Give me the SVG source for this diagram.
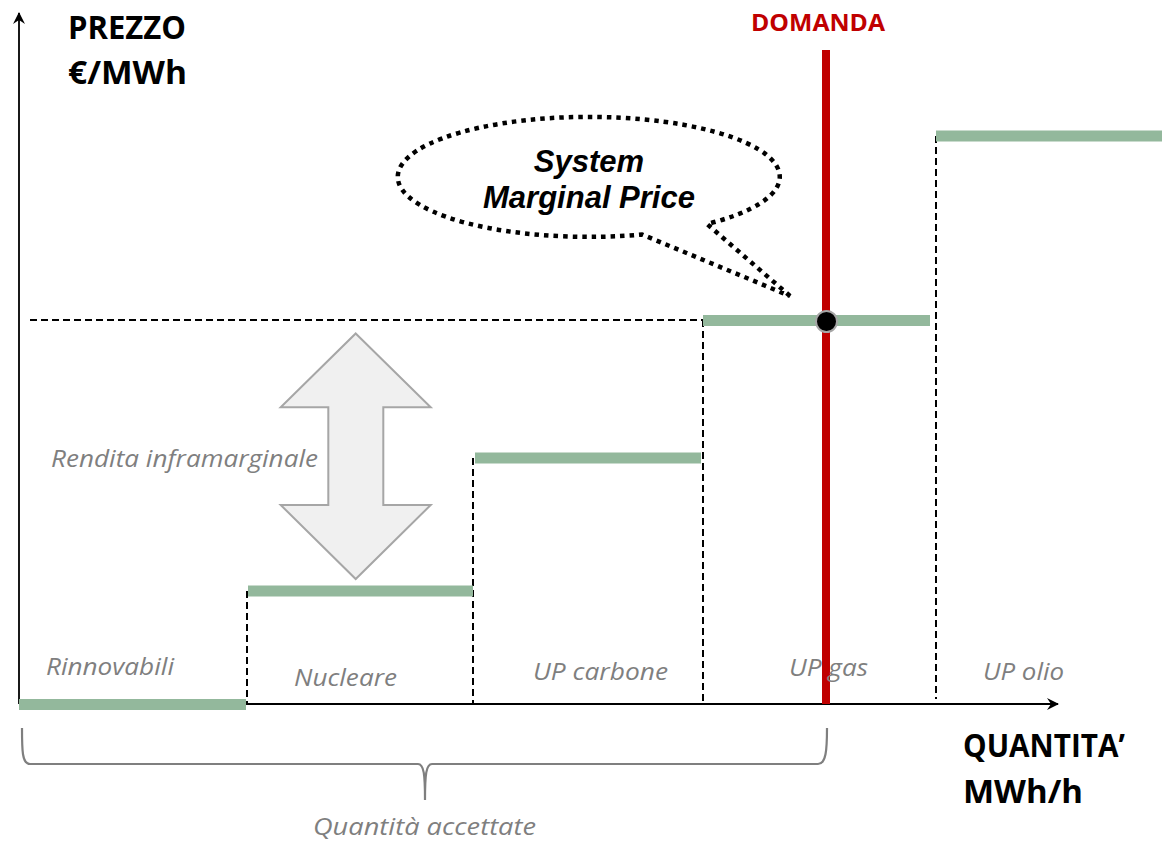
<svg xmlns="http://www.w3.org/2000/svg" width="1162" height="841" viewBox="0 0 1162 841">
<defs>
<style>
.axis{stroke:#000;stroke-width:1.8;fill:none}
.dash{stroke:#000;stroke-width:2;stroke-dasharray:7 4;fill:none}
.bar{stroke:#93b89c;stroke-width:11;fill:none}
.lbl{font-family:"Open Sans","Liberation Sans",sans-serif;font-style:italic;fill:#7f7f7f;font-size:23px}
.big{font-family:"Open Sans","Liberation Sans",sans-serif;font-weight:bold;fill:#000;font-size:33px}
.smp{font-family:"Liberation Sans",Arial,sans-serif;font-weight:bold;font-style:italic;font-size:31px;fill:#000;text-anchor:middle}
</style>
<marker id="ah" viewBox="0 0 12 12" refX="11" refY="6" markerWidth="12" markerHeight="12" markerUnits="userSpaceOnUse" orient="auto">
<path d="M0,0 L12,6 L0,12 L4,6 Z" fill="#000"/>
</marker>
</defs>
<rect width="1162" height="841" fill="#fff"/>
<g id="connectors">
<line class="axis" x1="19" y1="704" x2="19" y2="13" marker-end="url(#ah)"/>
<line class="axis" x1="19" y1="704" x2="1058" y2="704" marker-end="url(#ah)"/>
<line class="dash" x1="30" y1="320" x2="817" y2="320"/>
<line class="dash" x1="247" y1="591" x2="247" y2="704"/>
<line class="dash" x1="473" y1="458" x2="473" y2="704"/>
<line class="dash" x1="703" y1="320" x2="703" y2="704"/>
<line class="dash" x1="936" y1="136" x2="936" y2="699"/>
</g>
<g id="bars">
<line class="bar" x1="19" y1="704.5" x2="246" y2="704.5"/>
<line class="bar" x1="248" y1="591" x2="473" y2="591"/>
<line class="bar" x1="475" y1="458" x2="701" y2="458"/>
<line class="bar" x1="703" y1="320.5" x2="930" y2="320.5"/>
<line class="bar" x1="936" y1="136" x2="1162" y2="136"/>
</g>
<g id="arrow-rendita">
<path d="M355.7,333.5 L430.7,407.3 L383.3,407.3 L383.3,505 L430.7,505 L355.7,579 L280.7,505 L328.3,505 L328.3,407.3 L280.7,407.3 Z" fill="#f0f0f0" stroke="#a6a6a6" stroke-width="2" stroke-linejoin="miter"/>
</g>
<g id="domanda">
<line x1="826" y1="50" x2="826" y2="704" stroke="#c00000" stroke-width="8"/>
<text x="818" y="30.5" font-family="'Open Sans','Liberation Sans',sans-serif" font-weight="bold" font-size="23" fill="#c00000" text-anchor="middle" textLength="134" lengthAdjust="spacingAndGlyphs">DOMANDA</text>
</g>
<g id="point">
<circle cx="826.5" cy="321.5" r="10.5" fill="#000" stroke="#a6a6a6" stroke-width="2"/>
</g>
<g id="callout">
<path d="M790,296 L707,224 A191,60 0 1 0 642,234.5 Z" fill="none" stroke="#000" stroke-width="4.5" stroke-dasharray="4.5 5"/>
<text class="smp" x="589" y="172">System</text>
<text class="smp" x="589" y="208">Marginal Price</text>
</g>
<g id="brace">
<path d="M22,728 C22,750 22,764 30,764 L418,764 C424,764 425,775 425,800 C425,775 426,764 432,764 L818,764 C826,764 827,750 827,728" fill="none" stroke="#7f7f7f" stroke-width="2.2"/>
</g>
<g id="axis-labels">
<text class="big" x="68" y="39" textLength="118" lengthAdjust="spacingAndGlyphs">PREZZO</text>
<text class="big" x="68" y="83.5" textLength="119" lengthAdjust="spacingAndGlyphs">€/MWh</text>
<text class="big" x="963" y="757" textLength="162" lengthAdjust="spacingAndGlyphs">QUANTITA’</text>
<text class="big" x="963" y="803" textLength="120" lengthAdjust="spacingAndGlyphs">MWh/h</text>
</g>
<g id="labels">
<text class="lbl" x="46" y="675" textLength="128" lengthAdjust="spacingAndGlyphs">Rinnovabili</text>
<text class="lbl" x="294" y="685.5" textLength="103" lengthAdjust="spacingAndGlyphs">Nucleare</text>
<text class="lbl" x="533" y="680" textLength="135" lengthAdjust="spacingAndGlyphs">UP carbone</text>
<text class="lbl" x="789" y="676" textLength="79" lengthAdjust="spacingAndGlyphs">UP gas</text>
<text class="lbl" x="983" y="679.5" textLength="81" lengthAdjust="spacingAndGlyphs">UP olio</text>
<text class="lbl" x="51" y="467" textLength="267" lengthAdjust="spacingAndGlyphs">Rendita inframarginale</text>
<text class="lbl" x="313" y="835" textLength="223" lengthAdjust="spacingAndGlyphs">Quantità accettate</text>
</g>
</svg>
